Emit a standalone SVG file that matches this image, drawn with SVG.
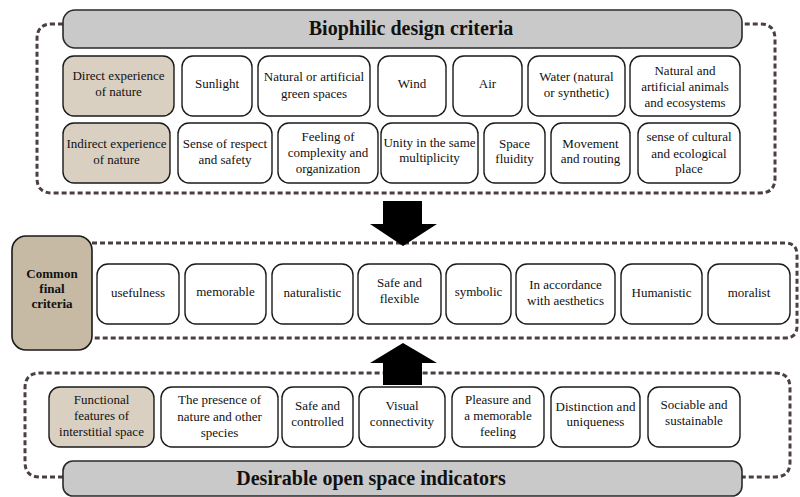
<svg xmlns="http://www.w3.org/2000/svg" width="800" height="497" viewBox="0 0 800 497">
<style>
.bg{fill:#ffffff}
.box{fill:#ffffff;stroke:#1a1a1a;stroke-width:1.4}
.beige{fill:#d9d0c1;stroke:#1a1a1a;stroke-width:1.4}
.beige2{fill:#c6baa4;stroke:#1a1a1a;stroke-width:1.6}
.head{fill:#c9c9c9;stroke:#2a2a2a;stroke-width:1.6}
.dash{fill:none;stroke:#4b3f40;stroke-width:3;stroke-dasharray:5 3}
.arrow{fill:#000000}
text{font-family:"Liberation Serif","Times New Roman",serif;font-size:13px;fill:#111111;text-anchor:middle}
.ht{font-size:20px;font-weight:bold}
.bt{font-weight:bold}
</style>
<rect class="bg" x="0" y="0" width="800" height="497"/>

<g id="frames">
<path class="dash" d="M63,24 H52 Q37,24 37,39 V178 Q37,193 52,193 H760 Q775,193 775,178 V39 Q775,24 760,24 H742"/>
<path class="dash" d="M92,243 H785 Q797,243 797,255 V326 Q797,338 785,338 H92"/>
<path class="dash" d="M63,477 H40 Q25,477 25,462 V388 Q25,373 40,373 H775 Q790,373 790,388 V462 Q790,477 775,477 H742"/>
</g>

<g id="connectors">
<polygon class="arrow" points="383,201 422,201 422,224 437,224 403,246 370,224 383,224"/>
<polygon class="arrow" points="403,343 437,363 422,363 422,385 383,385 383,363 370,363"/>
</g>

<g id="header-top">
<rect class="head" x="63" y="10" width="679" height="38" rx="12"/>
<text class="ht" x="411" y="35">Biophilic design criteria</text>
</g>

<g id="direct"><rect class="beige" x="63" y="56" width="111" height="60" rx="11"/>
<text x="118.5" y="80">Direct experience</text><text x="118.5" y="96">of nature</text></g>
<g id="sunlight"><rect class="box" x="182" y="56" width="70" height="60" rx="11"/>
<text x="217" y="88">Sunlight</text></g>
<g id="green"><rect class="box" x="258" y="56" width="112" height="60" rx="11"/>
<text x="314" y="81">Natural or artificial</text><text x="314" y="98">green spaces</text></g>
<g id="wind"><rect class="box" x="378" y="56" width="68" height="60" rx="11"/>
<text x="412" y="88">Wind</text></g>
<g id="air"><rect class="box" x="453" y="56" width="69" height="60" rx="11"/>
<text x="487.5" y="88">Air</text></g>
<g id="water"><rect class="box" x="528" y="56" width="97" height="60" rx="11"/>
<text x="576.5" y="81">Water (natural</text><text x="576.5" y="97">or synthetic)</text></g>
<g id="animals"><rect class="box" x="630" y="56" width="110" height="60" rx="11"/>
<text x="685" y="75">Natural and</text><text x="685" y="91">artificial animals</text><text x="685" y="107">and ecosystems</text></g>

<g id="indirect"><rect class="beige" x="63" y="123" width="107" height="60" rx="11"/>
<text x="116.5" y="148">Indirect experience</text><text x="116.5" y="164">of nature</text></g>
<g id="respect"><rect class="box" x="178" y="123" width="94" height="60" rx="11"/>
<text x="225" y="148">Sense of respect</text><text x="225" y="164">and safety</text></g>
<g id="complexity"><rect class="box" x="278" y="123" width="100" height="60" rx="11"/>
<text x="328" y="141">Feeling of</text><text x="328" y="157">complexity and</text><text x="328" y="173">organization</text></g>
<g id="unity"><rect class="box" x="381" y="123" width="97" height="60" rx="11"/>
<text x="429.5" y="147">Unity in the same</text><text x="429.5" y="162">multiplicity</text></g>
<g id="fluidity"><rect class="box" x="484" y="123" width="61" height="60" rx="11"/>
<text x="514.5" y="148">Space</text><text x="514.5" y="163">fluidity</text></g>
<g id="movement"><rect class="box" x="551" y="123" width="79" height="60" rx="11"/>
<text x="590.5" y="148">Movement</text><text x="590.5" y="163">and routing</text></g>
<g id="cultural"><rect class="box" x="638" y="123" width="102" height="60" rx="11"/>
<text x="689" y="141">sense of cultural</text><text x="689" y="158">and ecological</text><text x="689" y="173">place</text></g>

<g id="common"><rect class="beige2" x="12" y="236" width="80" height="114" rx="14"/>
<text class="bt" x="52" y="278">Common</text><text class="bt" x="52" y="293">final</text><text class="bt" x="52" y="308">criteria</text></g>
<g id="usefulness"><rect class="box" x="97" y="264" width="82" height="60" rx="11"/>
<text x="138" y="297">usefulness</text></g>
<g id="memorable"><rect class="box" x="185" y="264" width="81" height="60" rx="11"/>
<text x="225.5" y="296">memorable</text></g>
<g id="naturalistic"><rect class="box" x="272" y="264" width="81" height="60" rx="11"/>
<text x="312.5" y="297">naturalistic</text></g>
<g id="safe-flexible"><rect class="box" x="358" y="264" width="83" height="60" rx="11"/>
<text x="399.5" y="287">Safe and</text><text x="399.5" y="303">flexible</text></g>
<g id="symbolic"><rect class="box" x="446" y="264" width="65" height="60" rx="11"/>
<text x="478.5" y="296">symbolic</text></g>
<g id="aesthetics"><rect class="box" x="516" y="264" width="99" height="60" rx="11"/>
<text x="565.5" y="289">In accordance</text><text x="565.5" y="305">with aesthetics</text></g>
<g id="humanistic"><rect class="box" x="621" y="264" width="81" height="60" rx="11"/>
<text x="661.5" y="297">Humanistic</text></g>
<g id="moralist"><rect class="box" x="708" y="264" width="82" height="60" rx="11"/>
<text x="749" y="297">moralist</text></g>

<g id="functional"><rect class="beige" x="49" y="387" width="105" height="60" rx="11"/>
<text x="101.5" y="404">Functional</text><text x="101.5" y="420">features of</text><text x="101.5" y="436">interstitial space</text></g>
<g id="presence"><rect class="box" x="161" y="387" width="117" height="60" rx="11"/>
<text x="219.5" y="404">The presence of</text><text x="219.5" y="421">nature and other</text><text x="219.5" y="437">species</text></g>
<g id="safe-controlled"><rect class="box" x="282" y="387" width="71" height="60" rx="11"/>
<text x="317.5" y="410">Safe and</text><text x="317.5" y="426">controlled</text></g>
<g id="visual"><rect class="box" x="359" y="387" width="86" height="60" rx="11"/>
<text x="402" y="410">Visual</text><text x="402" y="426">connectivity</text></g>
<g id="pleasure"><rect class="box" x="452" y="387" width="92" height="60" rx="11"/>
<text x="498" y="404">Pleasure and</text><text x="498" y="420">a memorable</text><text x="498" y="436">feeling</text></g>
<g id="distinction"><rect class="box" x="551" y="387" width="89" height="60" rx="11"/>
<text x="595.5" y="411">Distinction and</text><text x="595.5" y="426">uniqueness</text></g>
<g id="sociable"><rect class="box" x="648" y="387" width="92" height="60" rx="11"/>
<text x="694" y="409">Sociable and</text><text x="694" y="425">sustainable</text></g>

<g id="header-bottom">
<rect class="head" x="63" y="461" width="679" height="35" rx="10"/>
<text class="ht" x="371" y="485">Desirable open space indicators</text>
</g>
</svg>
